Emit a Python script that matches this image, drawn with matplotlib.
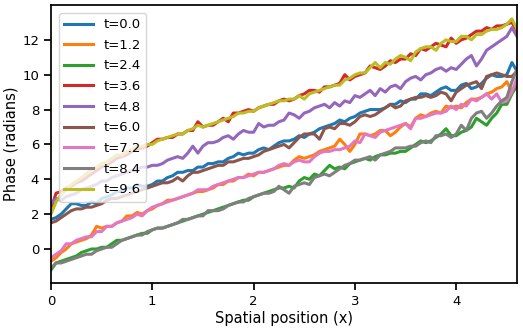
import numpy as np
import matplotlib
matplotlib.use('Agg')
import matplotlib.pyplot as plt

# phase profiles sampled every 0.05 along x (93 points, 0 .. 4.6)
x = np.round(np.arange(93) * 0.05, 2)
times = [0.0, 1.2, 2.4, 3.6, 4.8, 6.0, 7.2, 8.4, 9.6]

phase_t00 = [1.7, 1.8, 2.0, 2.3, 2.6, 2.6, 2.5, 2.5, 2.7, 2.6,
             2.9, 3.0, 3.1, 3.3, 3.3, 3.5, 3.5, 3.7, 3.6, 3.6,
             3.7, 3.9, 3.9, 4.1, 4.2, 4.4, 4.4, 4.5, 4.5, 4.7,
             4.7, 4.9, 4.9, 5.0, 5.0, 5.2, 5.3, 5.5, 5.4, 5.5,
             5.5, 5.7, 5.8, 5.7, 5.9, 6.1, 6.2, 6.2, 6.3, 6.5,
             6.4, 6.6, 6.7, 6.9, 7.0, 7.1, 7.2, 7.4, 7.3, 7.5,
             7.6, 7.8, 7.9, 8.0, 8.0, 8.0, 8.1, 8.3, 8.3, 8.5,
             8.4, 8.6, 8.6, 8.9, 8.9, 8.8, 9.0, 9.2, 9.3, 9.1,
             9.1, 9.4, 9.5, 9.2, 9.3, 9.5, 9.8, 10.0, 9.9, 9.9,
             10.0, 10.7, 10.2]
phase_t12 = [-0.7, -0.5, -0.2, 0.0, 0.3, 0.4, 0.5, 0.6, 0.8, 1.3,
             1.2, 1.3, 1.3, 1.5, 1.6, 1.9, 1.9, 2.1, 2.0, 2.2,
             2.3, 2.5, 2.6, 2.8, 2.8, 2.9, 3.0, 3.1, 3.2, 3.3,
             3.3, 3.4, 3.5, 3.7, 3.7, 3.9, 3.9, 4.1, 4.1, 4.3,
             4.2, 4.4, 4.4, 4.5, 4.6, 4.7, 4.8, 4.8, 5.1, 5.3,
             5.2, 5.3, 5.4, 5.6, 5.7, 5.8, 5.9, 6.3, 6.0, 5.6,
             6.0, 6.6, 6.6, 6.5, 6.6, 6.8, 6.8, 6.5, 6.7, 7.0,
             7.2, 7.0, 7.5, 7.7, 7.6, 7.8, 7.9, 7.8, 8.2, 8.1,
             8.2, 8.1, 8.4, 8.6, 8.6, 8.7, 8.9, 9.0, 9.2, 9.3,
             9.6, 9.0, 9.3]
phase_t24 = [-1.2, -0.8, -0.7, -0.6, -0.5, -0.4, -0.2, -0.1, 0.0, 0.0,
             0.1, 0.1, 0.3, 0.5, 0.5, 0.6, 0.7, 0.8, 0.9, 0.9,
             1.1, 1.2, 1.2, 1.3, 1.4, 1.5, 1.6, 1.7, 1.8, 1.9,
             2.0, 2.1, 2.2, 2.3, 2.4, 2.5, 2.6, 2.7, 2.8, 2.8,
             3.0, 3.1, 3.2, 3.3, 3.4, 3.5, 3.5, 3.6, 3.5, 3.9,
             4.1, 4.0, 4.3, 4.2, 4.5, 4.8, 4.6, 4.7, 4.6, 4.9,
             5.0, 5.1, 5.2, 5.1, 5.3, 5.4, 5.4, 5.5, 5.5, 5.6,
             5.6, 5.8, 6.0, 6.2, 6.1, 6.2, 6.4, 6.6, 6.9, 6.5,
             6.5, 6.7, 6.8, 7.0, 7.5, 7.3, 7.1, 7.5, 7.8, 8.3,
             8.3, 8.9, 9.4]
phase_t36 = [2.3, 3.2, 3.3, 3.5, 3.6, 3.8, 3.9, 4.1, 4.3, 4.5,
             4.7, 4.8, 5.0, 5.2, 5.3, 5.4, 5.6, 5.7, 5.8, 5.9,
             6.1, 6.3, 6.3, 6.4, 6.4, 6.6, 6.6, 6.8, 6.8, 7.3,
             7.0, 7.1, 7.1, 7.3, 7.5, 7.3, 7.8, 7.8, 7.9, 8.0,
             7.9, 8.1, 8.2, 8.3, 8.3, 8.5, 8.6, 8.5, 8.6, 8.8,
             8.9, 9.1, 9.1, 9.0, 9.3, 9.3, 9.4, 9.5, 10.0, 9.7,
             9.9, 10.0, 10.1, 10.5, 10.4, 10.3, 10.5, 10.8, 10.7, 10.9,
             10.9, 11.2, 11.1, 11.5, 11.4, 11.6, 11.8, 11.7, 11.6, 12.1,
             11.8, 12.0, 12.1, 12.3, 12.5, 12.5, 12.7, 12.6, 12.8, 12.8,
             12.9, 13.0, 12.5]
phase_t48 = [2.6, 2.9, 2.8, 3.0, 3.1, 3.2, 3.4, 3.5, 3.6, 3.7,
             3.9, 3.9, 4.1, 4.2, 4.3, 4.4, 4.5, 4.6, 4.7, 4.7,
             4.8, 4.8, 4.9, 5.1, 5.2, 5.3, 5.2, 5.5, 5.9, 5.5,
             5.9, 6.1, 6.1, 6.2, 6.4, 6.5, 6.3, 6.6, 6.8, 6.7,
             6.7, 7.2, 7.0, 7.1, 7.1, 7.3, 7.4, 7.8, 7.7, 7.5,
             7.8, 7.9, 8.1, 8.2, 8.3, 8.1, 8.4, 8.2, 8.5, 8.4,
             8.8, 8.7, 8.9, 9.1, 8.8, 9.2, 9.0, 9.3, 9.4, 9.2,
             9.6, 9.8, 9.9, 9.7, 10.0, 10.1, 10.3, 10.4, 10.2, 10.4,
             10.3, 10.6, 10.9, 11.1, 10.5, 10.9, 11.4, 11.6, 11.8, 12.0,
             12.2, 12.7, 12.2]
phase_t60 = [1.5, 1.6, 1.8, 2.0, 2.2, 2.3, 2.3, 2.4, 2.4, 2.5,
             2.6, 2.8, 2.9, 2.9, 3.0, 3.1, 3.2, 3.3, 3.4, 3.5,
             3.6, 3.7, 3.8, 3.8, 3.9, 4.1, 3.9, 4.2, 4.4, 4.4,
             4.5, 4.6, 4.7, 4.8, 4.8, 5.0, 5.0, 5.1, 5.2, 5.2,
             5.3, 5.4, 5.6, 5.7, 5.8, 5.9, 6.0, 5.8, 6.1, 6.4,
             6.6, 6.6, 6.6, 6.3, 6.9, 7.0, 6.9, 7.2, 7.2, 7.1,
             7.3, 7.6, 7.7, 7.6, 7.7, 7.9, 8.1, 8.3, 8.1, 8.2,
             8.5, 8.6, 8.7, 8.7, 8.8, 8.7, 8.8, 9.0, 8.9, 8.5,
             9.0, 9.2, 9.4, 9.5, 9.6, 9.2, 9.9, 10.0, 10.1, 10.0,
             9.9, 9.9, 10.2]
phase_t72 = [-0.5, -0.3, -0.1, 0.3, 0.3, 0.5, 0.6, 0.7, 0.7, 1.0,
             1.0, 1.3, 1.3, 1.5, 1.6, 1.7, 1.8, 2.0, 1.9, 2.2,
             2.4, 2.5, 2.6, 2.7, 2.8, 2.9, 3.0, 3.1, 3.2, 3.4,
             3.4, 3.4, 3.6, 3.7, 3.8, 3.9, 4.0, 4.1, 4.1, 4.2,
             4.3, 4.4, 4.4, 4.5, 4.6, 4.8, 4.9, 4.8, 5.0, 5.1,
             5.0, 5.0, 5.3, 5.5, 5.6, 5.6, 5.7, 5.7, 5.8, 5.9,
             6.2, 6.1, 6.6, 6.5, 6.4, 6.7, 6.8, 6.9, 7.0, 7.1,
             7.2, 6.9, 7.5, 7.5, 7.6, 7.7, 7.8, 7.8, 7.9, 8.2,
             8.0, 8.3, 8.2, 8.6, 8.5, 8.7, 8.9, 8.6, 8.9, 8.4,
             8.5, 9.0, 9.8]
phase_t84 = [-1.1, -0.8, -0.8, -0.7, -0.6, -0.5, -0.4, -0.3, -0.3, -0.1,
             0.0, 0.1, 0.1, 0.3, 0.5, 0.6, 0.7, 0.8, 0.8, 1.0,
             1.1, 1.2, 1.2, 1.3, 1.4, 1.5, 1.7, 1.7, 1.8, 1.9,
             1.9, 2.2, 2.2, 2.2, 2.3, 2.5, 2.6, 2.7, 2.7, 2.9,
             3.0, 3.1, 3.2, 3.2, 3.3, 3.6, 3.4, 3.2, 3.6, 3.7,
             3.8, 3.7, 4.1, 4.2, 4.3, 4.2, 4.4, 4.6, 4.8, 4.9,
             5.1, 5.1, 5.2, 5.3, 5.1, 5.4, 5.5, 5.6, 5.8, 5.8,
             5.8, 5.9, 5.9, 6.1, 6.2, 6.1, 6.5, 6.5, 6.6, 6.4,
             6.6, 7.1, 6.8, 7.5, 7.8, 7.9, 7.5, 7.8, 8.2, 8.5,
             8.7, 9.6, 10.3]
phase_t96 = [2.0, 2.7, 3.1, 3.4, 3.7, 3.9, 4.1, 4.3, 4.6, 4.7,
             4.9, 5.0, 5.2, 5.4, 5.4, 5.6, 5.7, 5.9, 5.9, 6.0,
             6.0, 6.2, 6.3, 6.4, 6.5, 6.6, 6.6, 6.8, 6.9, 7.1,
             7.0, 7.1, 7.2, 7.3, 7.4, 7.5, 7.6, 7.8, 7.8, 7.9,
             7.9, 8.1, 8.2, 8.3, 8.4, 8.5, 8.5, 8.6, 8.6, 8.8,
             8.6, 8.9, 9.0, 9.1, 9.2, 9.3, 9.4, 9.4, 9.7, 9.8,
             10.0, 10.1, 10.1, 10.4, 10.7, 10.4, 10.7, 10.6, 10.9, 11.1,
             11.0, 10.8, 11.3, 11.5, 11.6, 11.6, 11.4, 11.8, 12.0, 11.9,
             11.9, 12.2, 12.2, 12.0, 12.3, 12.3, 12.5, 12.6, 12.6, 12.7,
             12.9, 13.2, 12.6]

phases = [phase_t00, phase_t12, phase_t24, phase_t36, phase_t48,
          phase_t60, phase_t72, phase_t84, phase_t96]

fig, ax = plt.subplots(figsize=(5.23, 3.31), dpi=100)
fig.subplots_adjust(left=0.0975, right=0.9885, bottom=0.145, top=0.985)

for t, ph in zip(times, phases):
    ax.plot(x, ph, lw=2.2, label='t={:.1f}'.format(t))

ax.set_xlim(0, 4.6)
ax.set_ylim(-1.95, 14.0)
ax.set_yticks([0, 2, 4, 6, 8, 10, 12])
ax.set_xticks([0, 1, 2, 3, 4])
ax.set_xlabel('Spatial position (x)', fontsize=10.5, labelpad=2)
ax.set_ylabel('Phase (radians)', fontsize=10.5, labelpad=3)
ax.tick_params(labelsize=9.5, length=5, width=1.25)
for s in ax.spines.values():
    s.set_linewidth(1.25)

ax.legend(loc='upper left', fontsize=9.5, handlelength=2.2, labelspacing=0.58,
          borderaxespad=0.6, framealpha=0.8)

plt.savefig('out.png')
